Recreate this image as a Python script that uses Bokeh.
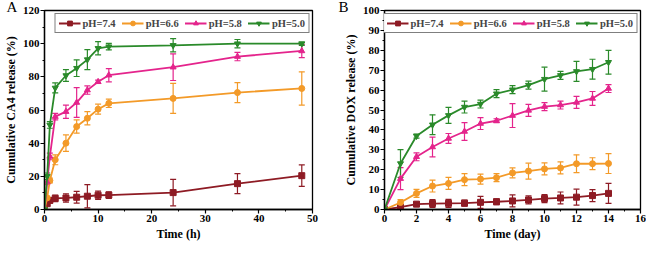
from bokeh.plotting import figure
from bokeh.models import ColumnDataSource, Whisker, Legend, LegendItem, Range1d, TeeHead, FixedTicker
from bokeh.layouts import row
from bokeh.embed import file_html
from bokeh.resources import INLINE

# ---------------- data ----------------
labels = ["pH=7.4", "pH=6.6", "pH=5.8", "pH=5.0"]
colors = ["#8E1B24", "#F39A28", "#E4248C", "#2A8A2A"]
markers = ["square", "circle", "triangle", "inverted_triangle"]

tA = [0, 0.5, 1, 2, 4, 6, 8, 10, 12, 24, 36, 48]
a74 = [0, 3.5, 5.5, 6.7, 7.0, 7.4, 8.0, 8.6, 8.7, 10.2, 15.6, 20.4]
a74e = [0, 1, 1.5, 2, 2.5, 3.5, 7, 2.5, 2, 8, 6, 6.5]
a66 = [0, 7, 17.5, 30, 40, 50, 55, 60.5, 64, 67, 70.5, 73]
a66e = [0, 1, 1.5, 3, 5, 4, 4, 3, 2.5, 9, 6, 10]
a58 = [0, 16.5, 32, 56, 59, 64.5, 72, 77, 81, 85.8, 92.2, 95.6]
a58e = [0, 1.5, 2, 2, 4, 9, 2.5, 1, 4, 8, 2.5, 4]
a50 = [0, 20, 51, 73.3, 80.8, 85.2, 90.4, 97.2, 98.2, 99, 100, 100]
a50e = [0, 2, 2, 3, 3.5, 5, 6, 4, 2, 4, 2.5, 1]

tB = [0, 1, 2, 3, 4, 5, 6, 7, 8, 9, 10, 11, 12, 13, 14]
b74 = [0, 1.2, 2.7, 3.0, 3.1, 3.2, 3.6, 3.9, 4.3, 4.8, 5.5, 5.8, 6.2, 7.0, 8.1]
b74e = [0, 0.5, 1, 2, 2, 1.5, 3, 1.5, 3, 2, 2, 3, 4, 3, 5]
b66 = [0, 3.5, 8.1, 11.8, 13.1, 15.0, 15.3, 16.0, 18.4, 19.3, 20.4, 20.9, 23.0, 23.0, 23.1]
b66e = [0, 1.5, 2, 3, 3, 3, 2.5, 2, 2.5, 4, 3, 3, 4.5, 3, 5]
b58 = [0, 15.5, 26.5, 31.4, 35.7, 39.2, 43.2, 44.6, 47.2, 49.8, 51.7, 52.5, 53.8, 55.8, 60.8]
b58e = [0, 5.5, 2, 5, 2.5, 4.5, 3, 1, 6, 3, 2, 2, 3, 3.5, 2]
b50 = [0, 23.1, 36.9, 42.6, 47.3, 51.5, 53, 58.2, 60.2, 62.5, 65.5, 67.4, 69.4, 70.5, 74]
b50e = [0, 7, 1, 5, 4, 3, 2, 2, 2, 2, 6, 2, 5, 5, 6]

xticksA = [0, 10, 20, 30, 40, 50]
yticksA = [0, 20, 40, 60, 80, 100, 120]
xticksB = [0, 2, 4, 6, 8, 10, 12, 14, 16]
yticksB = [0, 10, 20, 30, 40, 50, 60, 70, 80, 90, 100]

FONT = "Liberation Serif"


def make_panel(t, series, errs, xr, yr, xlabel, ylabel, xt, yt, xstep, ystep,
               width, min_left, min_right, letter, letter_offset):
    p = figure(width=width, height=243, output_backend="svg", toolbar_location=None,
               x_range=Range1d(*xr), y_range=Range1d(*yr),
               min_border_left=min_left, min_border_right=min_right,
               min_border_top=6, min_border_bottom=0, title=letter)
    p.title.align = "left"
    p.title.offset = letter_offset
    p.title.standoff = -8
    p.title.text_font = FONT
    p.title.text_font_style = "normal"
    p.title.text_font_size = "15px"
    p.title.text_color = "black"
    p.grid.visible = False
    p.outline_line_color = "black"
    p.outline_line_width = 1.3
    p.background_fill_color = "white"
    p.border_fill_color = "white"
    for ax in (p.xaxis[0], p.yaxis[0]):
        ax.axis_line_width = 1.3
        ax.major_tick_line_width = 1.2
        ax.minor_tick_line_width = 1
        ax.major_tick_out = 4
        ax.major_tick_in = 0
        ax.minor_tick_out = 2
        ax.minor_tick_in = 0
        ax.major_label_text_font = FONT
        ax.major_label_text_font_style = "bold"
        ax.major_label_text_font_size = "11px"
        ax.major_label_text_color = "black"
        ax.axis_label_text_font = FONT
        ax.axis_label_text_font_style = "bold"
        ax.axis_label_text_font_size = "12px"
        ax.axis_label_text_color = "black"
        ax.major_label_standoff = 1
        ax.axis_label_standoff = 2
    p.xaxis.axis_label = xlabel
    p.yaxis.axis_label = ylabel
    p.xaxis.ticker = FixedTicker(ticks=xt, minor_ticks=[v + xstep / 2 for v in xt[:-1]])
    p.yaxis.ticker = FixedTicker(ticks=yt, minor_ticks=[v + ystep / 2 for v in yt[:-1]])

    items = []
    for lab, col, mk, y, e in zip(labels, colors, markers, series, errs):
        src = ColumnDataSource(dict(x=t, y=y,
                                    lo=[a - b for a, b in zip(y, e)],
                                    hi=[a + b for a, b in zip(y, e)]))
        w = Whisker(source=src, base="x", lower="lo", upper="hi",
                    line_color=col, line_width=1.2,
                    upper_head=TeeHead(size=6, line_color=col, line_width=1.2),
                    lower_head=TeeHead(size=6, line_color=col, line_width=1.2))
        p.add_layout(w)
        ln = p.line("x", "y", source=src, line_color=col, line_width=1.8)
        sc = p.scatter("x", "y", source=src, marker=mk, size=6,
                       fill_color=col, line_color=col)
        items.append(LegendItem(label=lab, renderers=[ln, sc]))

    leg = Legend(items=items, location="top_right", orientation="horizontal",
                 label_text_font=FONT, label_text_font_style="bold",
                 label_text_font_size="10.5px", glyph_width=22, glyph_height=12,
                 label_standoff=2, spacing=6, padding=3, margin=3,
                 border_line_color="black", border_line_width=1,
                 label_height=12)
    p.add_layout(leg)
    return p


pA = make_panel(tA, [a74, a66, a58, a50], [a74e, a66e, a58e, a50e], (0, 50), (0, 120),
                "Time (h)", "Cumulative CA4 release (%)",
                xticksA, yticksA, 10, 20, 322, 38, 10, "A", -38)
pB = make_panel(tB, [b74, b66, b58, b50], [b74e, b66e, b58e, b50e], (0, 16), (0, 100),
                "Time (day)", "Cumulative DOX release (%)",
                xticksB, yticksB, 2, 10, 324, 62, 6, "B", -46)

layout = row(pA, pB, spacing=0)
open("out.html", "w").write(file_html(layout, INLINE))
